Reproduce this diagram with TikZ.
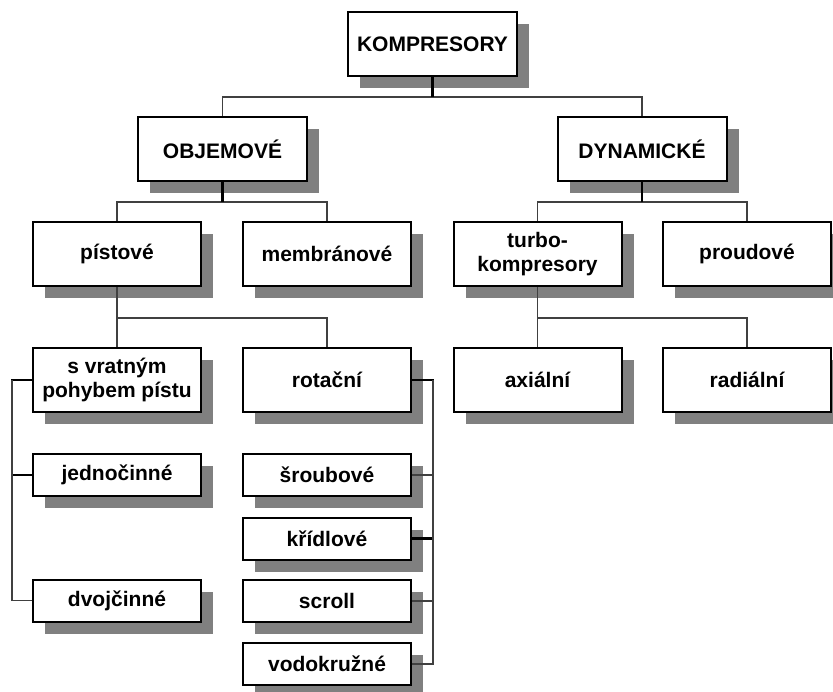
\documentclass[tikz,border=0pt]{standalone}
\usepackage{fontspec}
\setmainfont{Liberation Sans}
\usetikzlibrary{shadows}
\definecolor{shadowgray}{gray}{0.5}
\begin{document}
\begin{tikzpicture}[x=1pt, y=-1pt,
        box/.style = {draw=black, line width=2pt, fill=white, minimum width=168pt, minimum height=64pt,
            inner sep=2pt, align=center, font=\bfseries\fontsize{21}{24}\selectfont,
            drop shadow={shadow xshift=12pt, shadow yshift=-12pt, fill=shadowgray, opacity=1}},
        small/.style = {box, minimum height=42pt},
        stub/.style = {line width=2.5pt, black},
        link/.style = {line width=1.5pt, black!75}
    ]
        \useasboundingbox (0,0) rectangle (833,692);
        % levels 1 and 2
        \node[box, minimum width=169pt] (komp) at (432.5,44) {KOMPRESORY};
        \node[box, minimum width=169pt] (objem) at (222.5,149) {OBJEMOVÉ};
        \node[box, minimum width=169pt] (dyn) at (642,149) {DYNAMICKÉ};
        % level 3
        \node[box] (pist) at (117,254) {pístové};
        \node[box] (membr) at (327,254) {membránové};
        \node[box] (turbo) at (537.5,254) {turbo-\\kompresory};
        \node[box] (proud) at (747,254) {proudové};
        % level 4
        \node[box] (vrat) at (117,380) {s vratným\\pohybem pístu};
        \node[box] (rot) at (327,380) {rotační};
        \node[box] (axi) at (537.5,380) {axiální};
        \node[box] (radi) at (747,380) {radiální};
        % side lists
        \node[small] (jedn) at (117,475) {jednočinné};
        \node[small] (dvoj) at (117,600.5) {dvojčinné};
        \node[small] (srou) at (327,475) {šroubové};
        \node[small] (krid) at (327,538.5) {křídlové};
        \node[small] (scroll) at (327,601) {scroll};
        \node[small] (vodo) at (327,664) {vodokružné};

        \coordinate (kbus) at (432.5,97);
        \coordinate (obus) at (222.5,202);
        \coordinate (dbus) at (642,202);
        \coordinate (pbus) at (117,318);
        \coordinate (tbus) at (537.5,318);
        \coordinate (lbus) at (12,380);
        \coordinate (rbus) at (433,380);

        \draw[link] (objem.north) |- (kbus) -| (dyn.north);
        \draw[stub] (komp) -- (kbus);
        \draw[link] (pist.north) |- (obus) -| (membr.north);
        \draw[stub] (objem) -- (obus);
        \draw[link] (turbo.north) |- (dbus) -| (proud.north);
        \draw[stub] (dyn) -- (dbus);
        \draw[link] (vrat.north) |- (pbus) -| (rot.north);
        \draw[link] (pist) -- (pbus);
        \draw[link] (axi.north) |- (tbus) -| (radi.north);
        \draw[link] (turbo) -- (tbus);

        \draw[stub] (vrat.west) -- (lbus) |- (jedn.west);
        \draw[link] (lbus) |- (dvoj.west);
        \draw[stub] (rot.east) -- (rbus) |- (krid.east);
        \draw[link] (rbus) |- (srou.east);
        \draw[link] (rbus) |- (scroll.east);
        \draw[link] (rbus) |- (vodo.east);
    \end{tikzpicture}
\end{document}
